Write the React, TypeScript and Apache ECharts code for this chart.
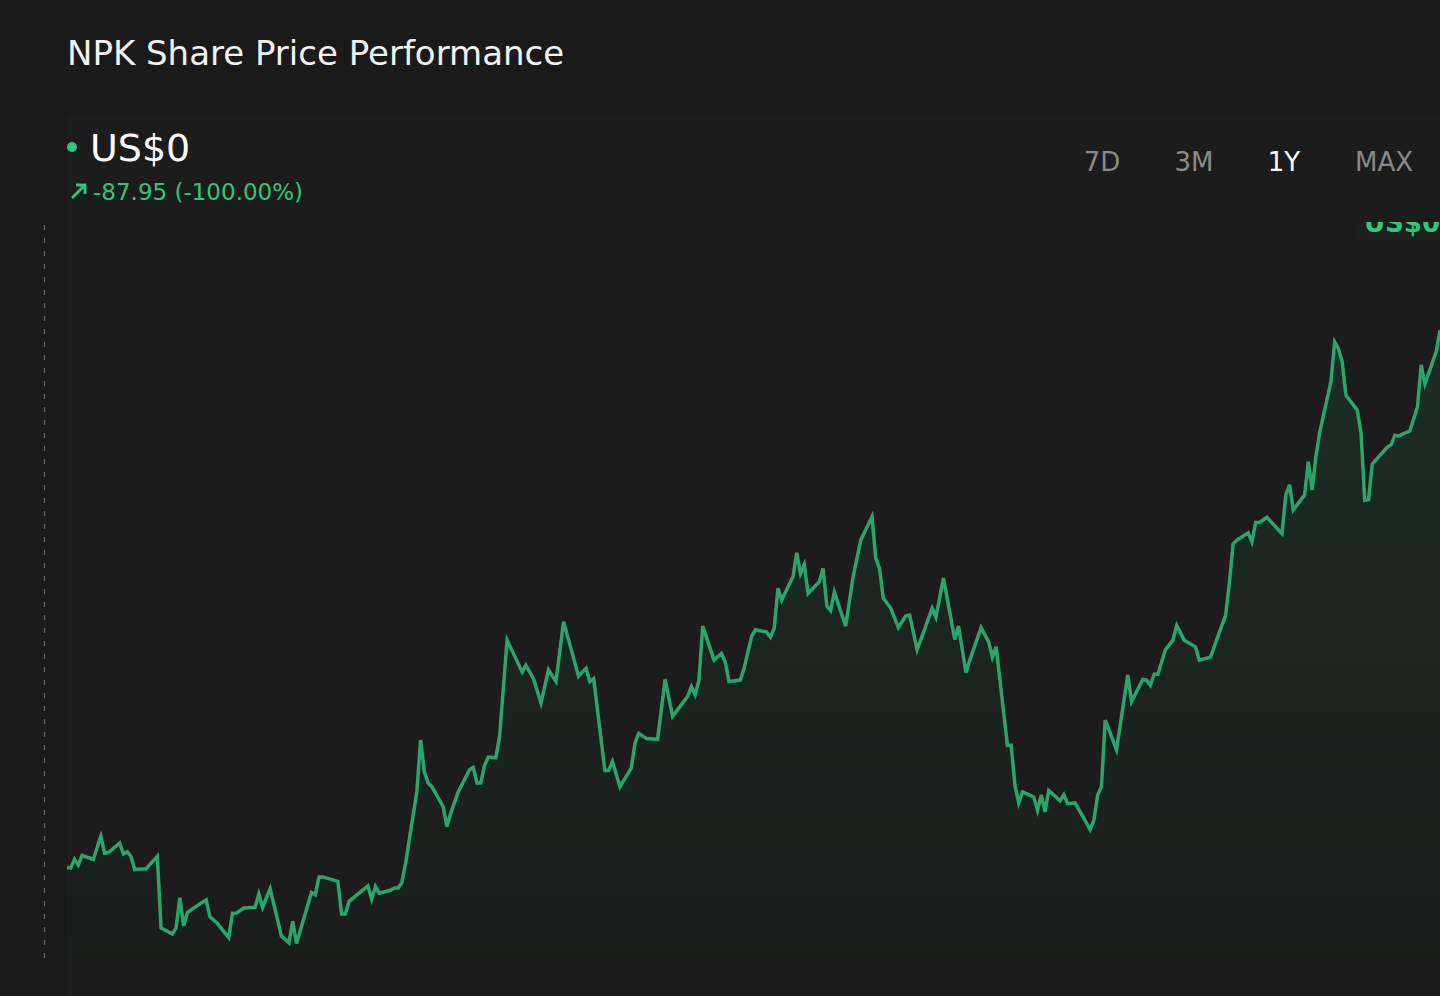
import React, { useEffect, useRef } from "react";
import * as echarts from "echarts";

const chartTitle = "NPK Share Price Performance";
const currentPrice = "US$0";
const priceChange = "-87.95 (-100.00%)";
const rangeTabs = ["7D", "3M", "1Y", "MAX"];
const activeTab = "1Y";

const tradingDay = [
  0, 1, 2, 3, 4, 7, 9, 10, 11, 14,
  15, 16, 17, 18, 21, 24, 25, 28, 29, 30,
  31, 32, 34, 37, 38, 40, 43, 44, 45, 47,
  50, 51, 52, 54, 57, 59, 60, 61, 65, 66,
  67, 68, 72, 73, 74, 75, 80, 81, 82, 83,
  86, 87, 88, 89, 90, 93, 94, 95, 96, 97,
  100, 101, 102, 104, 107, 108, 109, 110, 111, 112,
  114, 115, 117, 121, 122, 123, 124, 126, 128, 130,
  132, 136, 137, 138, 139, 140, 143, 144, 145, 147,
  150, 151, 152, 154, 157, 159, 161, 165, 166, 167,
  168, 169, 172, 174, 175, 176, 179, 180, 182, 183,
  186, 187, 188, 189, 190, 193, 194, 195, 196, 197,
  200, 201, 202, 203, 204, 207, 209, 211, 214, 215,
  216, 217, 219, 221, 223, 224, 226, 230, 231, 233,
  236, 237, 239, 240, 243, 245, 246, 247, 250, 251,
  252, 253, 254, 257, 258, 259, 260, 261, 264, 265,
  266, 268, 272, 273, 274, 275, 276, 279, 282, 283,
  286, 287, 288, 289, 290, 292, 294, 295, 297, 300,
  301, 304, 307, 308, 309, 310, 311, 314, 315, 316,
  317, 319, 323, 324, 325, 326, 329, 330, 331, 332,
  333, 336, 337, 338, 339, 340, 343, 344, 345, 346,
  347, 351, 352, 353, 354, 357, 359, 360, 361, 364,
  365,
];

const closePrice = [
  6.32, 6.31, 6.43, 6.35, 6.48, 6.43, 6.74, 6.51, 6.52, 6.65,
  6.5, 6.53, 6.47, 6.29, 6.3, 6.47, 5.5, 5.42, 5.5, 5.91,
  5.53, 5.71, 5.78, 5.88, 5.65, 5.56, 5.37, 5.7, 5.7, 5.77,
  5.78, 5.96, 5.78, 6.03, 5.39, 5.3, 5.59, 5.29, 5.98, 5.95,
  6.19, 6.19, 6.13, 5.69, 5.69, 5.86, 6.07, 5.89, 6.06, 5.97,
  6.01, 6.04, 6.04, 6.11, 6.37, 7.34, 8.04, 7.61, 7.46, 7.41,
  7.14, 6.87, 7.05, 7.34, 7.64, 7.67, 7.46, 7.46, 7.7, 7.81,
  7.8, 8.09, 9.39, 8.96, 9.05, 8.96, 8.87, 8.54, 8.99, 8.83,
  9.64, 8.9, 8.96, 9.01, 8.83, 8.87, 7.63, 7.63, 7.75, 7.41,
  7.66, 8.0, 8.13, 8.06, 8.05, 8.86, 8.36, 8.63, 8.76, 8.65,
  8.85, 9.58, 9.12, 9.21, 9.09, 8.83, 8.85, 9.01, 9.44, 9.53,
  9.5, 9.43, 9.55, 10.09, 9.93, 10.25, 10.57, 10.29, 10.41, 10.02,
  10.18, 10.36, 9.85, 9.79, 10.04, 9.58, 10.25, 10.74, 11.06, 10.5,
  10.36, 9.96, 9.82, 9.56, 9.72, 9.73, 9.26, 9.82, 9.7, 10.23,
  9.4, 9.58, 8.95, 9.12, 9.56, 9.37, 9.16, 9.3, 7.97, 7.97,
  7.43, 7.19, 7.34, 7.27, 7.09, 7.3, 7.07, 7.36, 7.22, 7.3,
  7.18, 7.19, 6.83, 6.96, 7.3, 7.41, 8.31, 7.91, 8.92, 8.56,
  8.86, 8.85, 8.78, 8.93, 8.93, 9.26, 9.39, 9.59, 9.39, 9.3,
  9.12, 9.16, 9.59, 9.72, 10.16, 10.69, 10.74, 10.84, 10.72, 10.98,
  10.98, 11.05, 10.83, 11.35, 11.49, 11.15, 11.35, 11.8, 11.42, 11.87,
  12.19, 12.88, 13.42, 13.33, 13.15, 12.7, 12.5, 12.19, 11.28, 11.29,
  11.77, 12.0, 12.03, 12.16, 12.15, 12.22, 12.54, 13.11, 12.85, 13.29,
  13.58,
];

const BG = "#1a1a1a";
const PANEL = "#1b1c1b";
const GREEN_LINE = "#2aa56c";
const GREEN_TEXT = "#2fc77e";
const FONT = "DejaVu Sans";

export default function App() {
  const ref = useRef<HTMLDivElement>(null);

  useEffect(() => {
    if (!ref.current) return;
    const chart = echarts.init(ref.current, null, { renderer: "svg" });
    const seriesData = tradingDay.map((d, i) => [d, closePrice[i]]);
    const tabX = [1102, 1194, 1284, 1384];

    chart.setOption({
      animation: false,
      backgroundColor: BG,
      grid: { left: 67, right: 0, top: 225, bottom: 31 },
      xAxis: { type: "value", min: 0, max: 365, show: false },
      yAxis: { type: "value", min: 5, max: 15, show: false },
      series: [
        {
          type: "line",
          data: seriesData,
          showSymbol: false,
          z: 5,
          lineStyle: { color: GREEN_LINE, width: 3.5, join: "miter" },
          areaStyle: {
            color: new echarts.graphic.LinearGradient(0, 0, 0, 1, [
              { offset: 0, color: "rgba(42,165,108,0.18)" },
              { offset: 1, color: "rgba(42,165,108,0.01)" },
            ]),
          },
        },
      ],
      graphic: [
        {
          type: "rect",
          z: -10,
          shape: { x: 67, y: 115, width: 1373, height: 881 },
          style: { fill: PANEL },
        },
        {
          type: "text",
          x: 67,
          y: 53,
          style: {
            text: chartTitle,
            font: `34px "${FONT}"`,
            fill: "#f2f2f2",
            textAlign: "left",
            textVerticalAlign: "middle",
          },
        },
        {
          type: "circle",
          shape: { cx: 72, cy: 147, r: 5 },
          style: { fill: GREEN_TEXT },
        },
        {
          type: "text",
          x: 90,
          y: 148,
          style: {
            text: currentPrice,
            font: `38px "${FONT}"`,
            fill: "#ffffff",
            textAlign: "left",
            textVerticalAlign: "middle",
          },
        },
        {
          type: "line",
          shape: { x1: 72, y1: 198, x2: 85, y2: 185 },
          style: { stroke: GREEN_TEXT, lineWidth: 2.8 },
        },
        {
          type: "polyline",
          shape: { points: [[76, 185], [85, 185], [85, 194]] },
          style: { stroke: GREEN_TEXT, lineWidth: 2.8, fill: null },
        },
        {
          type: "text",
          x: 93,
          y: 192,
          style: {
            text: priceChange,
            font: `23px "${FONT}"`,
            fill: GREEN_TEXT,
            textAlign: "left",
            textVerticalAlign: "middle",
          },
        },
        ...rangeTabs.map((t, i) => ({
          type: "text",
          x: tabX[i],
          y: 162,
          style: {
            text: t,
            font: `26px "${FONT}"`,
            fill: t === activeTab ? "#ffffff" : "#8a8a8a",
            textAlign: "center",
            textVerticalAlign: "middle",
          },
        })),
        {
          type: "line",
          shape: { x1: 44.5, y1: 225, x2: 44.5, y2: 966 },
          style: { stroke: "#666666", lineWidth: 1.2, lineDash: [5, 8] },
        },
        {
          type: "rect",
          shape: { x: 1357, y: 200, width: 90, height: 39 },
          style: { fill: "#1e1e1e" },
        },
        {
          type: "text",
          x: 1364,
          y: 236,
          style: {
            text: currentPrice,
            font: `bold 26px "${FONT}"`,
            fill: GREEN_TEXT,
            textAlign: "left",
            textVerticalAlign: "bottom",
          },
        },
        {
          type: "rect",
          shape: { x: 1340, y: 180, width: 100, height: 42 },
          style: { fill: PANEL },
        },
      ],
    });

    return () => chart.dispose();
  }, []);

  return (
    <div
      style={{
        position: "fixed",
        left: 0,
        top: 0,
        width: 1440,
        height: 996,
        background: BG,
      }}
    >
      <div ref={ref} style={{ width: 1440, height: 996 }} />
    </div>
  );
}
